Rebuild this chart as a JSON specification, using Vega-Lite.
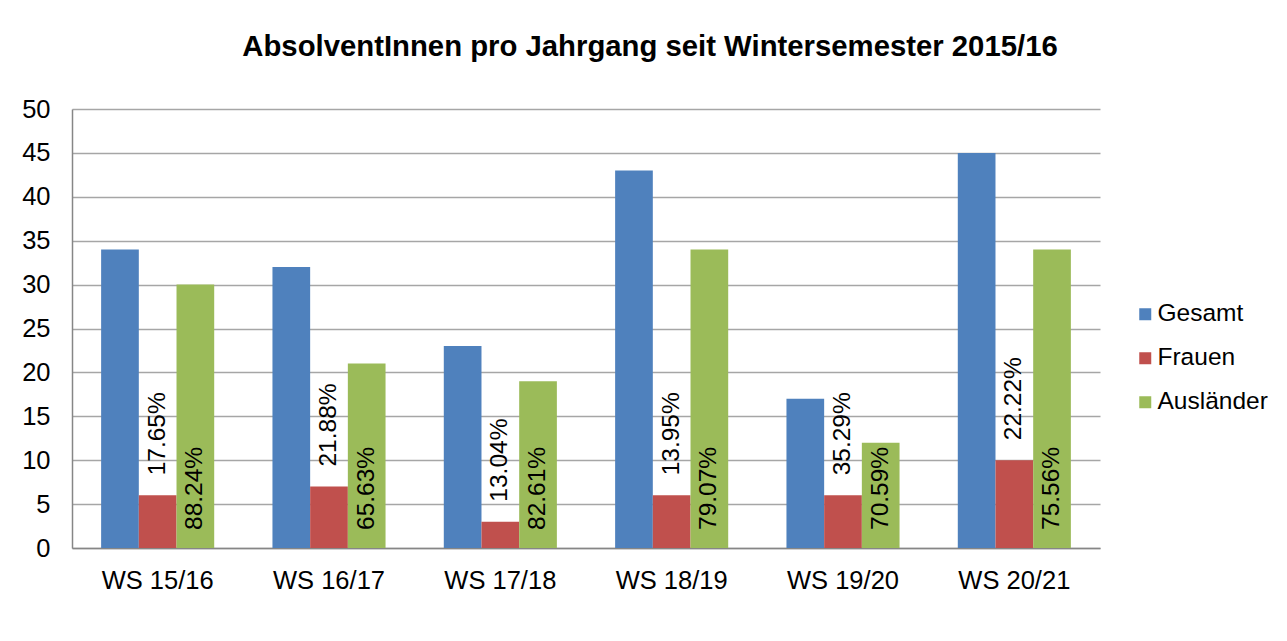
{
  "$schema": "https://vega.github.io/schema/vega-lite/v6.json",
  "autosize": {"type": "none"},
  "width": 1028,
  "height": 439,
  "padding": {"left": 72, "top": 109, "right": 187, "bottom": 93},
  "background": "white",
  "title": {
    "text": "AbsolventInnen pro Jahrgang seit Wintersemester 2015/16",
    "font": "Liberation Sans",
    "fontSize": 29.3,
    "fontWeight": "bold",
    "color": "black",
    "anchor": "middle",
    "frame": "group",
    "dx": 64,
    "offset": 35
  },
  "config": {
    "font": "Liberation Sans",
    "view": {"stroke": null}
  },
  "data": {
    "values": [
      {"Semester": "WS 15/16", "Gruppe": "Gesamt", "Anzahl": 34},
      {"Semester": "WS 15/16", "Gruppe": "Frauen", "Anzahl": 6, "Anteil": "17.65%"},
      {"Semester": "WS 15/16", "Gruppe": "Ausländer", "Anzahl": 30, "Anteil": "88.24%"},
      {"Semester": "WS 16/17", "Gruppe": "Gesamt", "Anzahl": 32},
      {"Semester": "WS 16/17", "Gruppe": "Frauen", "Anzahl": 7, "Anteil": "21.88%"},
      {"Semester": "WS 16/17", "Gruppe": "Ausländer", "Anzahl": 21, "Anteil": "65.63%"},
      {"Semester": "WS 17/18", "Gruppe": "Gesamt", "Anzahl": 23},
      {"Semester": "WS 17/18", "Gruppe": "Frauen", "Anzahl": 3, "Anteil": "13.04%"},
      {"Semester": "WS 17/18", "Gruppe": "Ausländer", "Anzahl": 19, "Anteil": "82.61%"},
      {"Semester": "WS 18/19", "Gruppe": "Gesamt", "Anzahl": 43},
      {"Semester": "WS 18/19", "Gruppe": "Frauen", "Anzahl": 6, "Anteil": "13.95%"},
      {"Semester": "WS 18/19", "Gruppe": "Ausländer", "Anzahl": 34, "Anteil": "79.07%"},
      {"Semester": "WS 19/20", "Gruppe": "Gesamt", "Anzahl": 17},
      {"Semester": "WS 19/20", "Gruppe": "Frauen", "Anzahl": 6, "Anteil": "35.29%"},
      {"Semester": "WS 19/20", "Gruppe": "Ausländer", "Anzahl": 12, "Anteil": "70.59%"},
      {"Semester": "WS 20/21", "Gruppe": "Gesamt", "Anzahl": 45},
      {"Semester": "WS 20/21", "Gruppe": "Frauen", "Anzahl": 10, "Anteil": "22.22%"},
      {"Semester": "WS 20/21", "Gruppe": "Ausländer", "Anzahl": 34, "Anteil": "75.56%"}
    ]
  },
  "encoding": {
    "x": {
      "field": "Semester",
      "type": "nominal",
      "sort": null,
      "scale": {"paddingInner": 0.34, "paddingOuter": 0.17},
      "axis": {
        "title": null,
        "labelAngle": 0,
        "labelFontSize": 25.5,
        "labelColor": "black",
        "labelPadding": 20,
        "ticks": false,
        "tickSize": 0,
        "domainColor": "#868686",
        "domainWidth": 1.5,
        "grid": false
      }
    },
    "xOffset": {
      "field": "Gruppe",
      "type": "nominal",
      "sort": ["Gesamt", "Frauen", "Ausländer"],
      "scale": {"domain": ["Gesamt", "Frauen", "Ausländer"], "paddingInner": 0, "paddingOuter": 0}
    }
  },
  "layer": [
    {
      "mark": {"type": "bar"},
      "encoding": {
        "y": {
          "field": "Anzahl",
          "type": "quantitative",
          "scale": {"domain": [0, 50], "nice": false},
          "axis": {
            "title": null,
            "values": [0, 5, 10, 15, 20, 25, 30, 35, 40, 45, 50],
            "labelFontSize": 25.5,
            "labelColor": "black",
            "labelPadding": 22,
            "ticks": false,
            "tickSize": 0,
            "domainColor": "#868686",
            "domainWidth": 1.5,
            "grid": true,
            "gridColor": "#A6A6A6",
            "gridWidth": 1.5
          }
        },
        "color": {
          "field": "Gruppe",
          "type": "nominal",
          "scale": {"domain": ["Gesamt", "Frauen", "Ausländer"], "range": ["#4F81BD", "#C0504D", "#9BBB59"]},
          "legend": {
            "title": null,
            "orient": "none",
            "legendX": 1061,
            "legendY": 193,
            "padding": 0,
            "symbolType": "square",
            "symbolSize": 144,
            "symbolStrokeWidth": 0,
            "symbolOpacity": 1,
            "labelFontSize": 24.5,
            "labelColor": "black",
            "labelOffset": 0,
            "rowPadding": 19
          }
        }
      }
    },
    {
      "transform": [{"filter": "datum.Gruppe == 'Frauen'"}],
      "mark": {"type": "text", "angle": 270, "align": "left", "baseline": "middle", "dx": 20, "fontSize": 24.5, "color": "black"},
      "encoding": {
        "y": {"field": "Anzahl", "type": "quantitative"},
        "text": {"field": "Anteil"}
      }
    },
    {
      "transform": [{"filter": "datum.Gruppe == 'Ausländer'"}],
      "mark": {"type": "text", "angle": 270, "align": "left", "baseline": "middle", "dx": 18, "fontSize": 24.5, "color": "black"},
      "encoding": {
        "y": {"datum": 0, "type": "quantitative"},
        "text": {"field": "Anteil"}
      }
    }
  ]
}
